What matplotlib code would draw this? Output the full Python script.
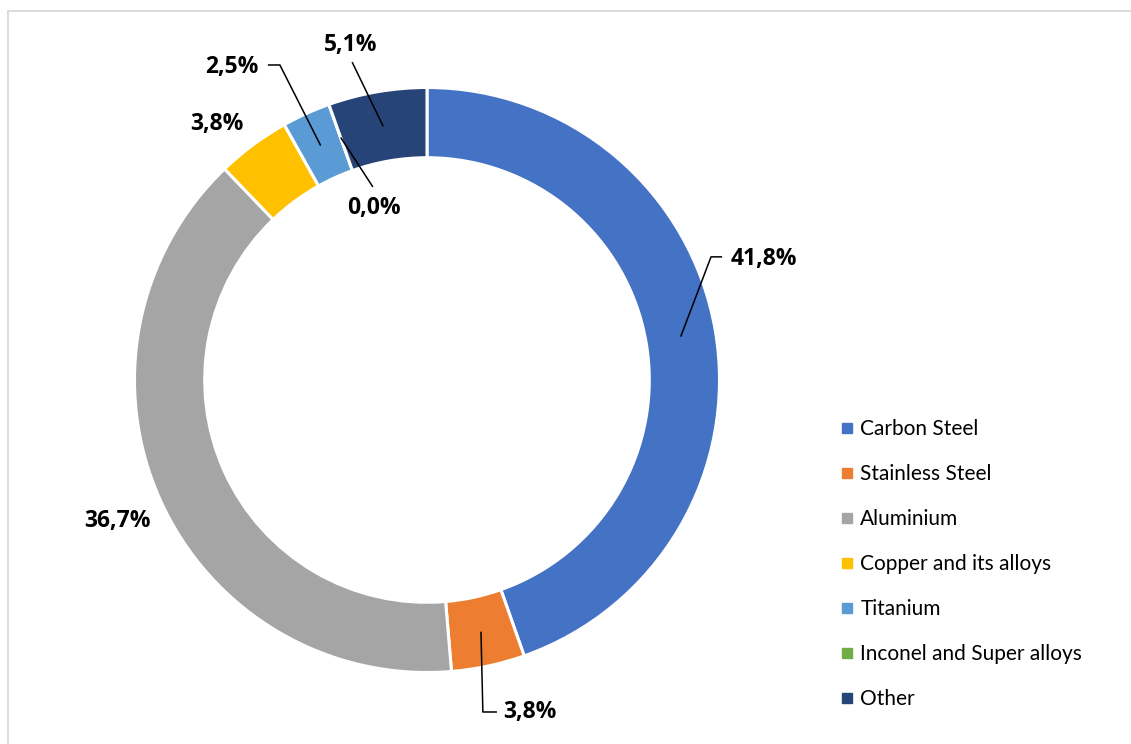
import matplotlib
matplotlib.use("Agg")
import matplotlib.pyplot as plt
import numpy as np
from matplotlib.lines import Line2D

plt.rcParams['font.family'] = ['Lato', 'DejaVu Sans']

# material shares (%)
materials = ["Carbon Steel", "Stainless Steel", "Aluminium", "Copper and its alloys",
             "Titanium", "Inconel and Super alloys", "Other"]
shares = [41.8, 3.8, 36.7, 3.8, 2.5, 0.0, 5.1]
colors = ["#4472C4", "#ED7D31", "#A5A5A5", "#FFC000", "#5B9BD5", "#70AD47", "#264478"]

W, H = 1131, 744
fig = plt.figure(figsize=(W / 100, H / 100), dpi=100)

# donut centred at (427, 380) px with outer radius 292.5 px
cx, cy, R = 427, 380, 292.5
ax = fig.add_axes([(cx - R) / W, (H - cy - R) / H, 2 * R / W, 2 * R / H])
wedges, _ = ax.pie(shares, colors=colors, startangle=90, counterclock=False,
                   radius=1.0,
                   wedgeprops=dict(width=0.24, edgecolor='white', linewidth=2.2))
ax.set_xlim(-1, 1)
ax.set_ylim(-1, 1)
ax.set_aspect('equal')
ax.axis('off')

# label placement: text anchor, alignment, leader points from the text towards the ring
label_pos = [
    ((1.039, 0.414), 'left', [(1.009, 0.421), (0.971, 0.421)]),
    ((0.260, -1.135), 'left', [(0.239, -1.135), (0.191, -1.135)]),
    ((-1.060, -0.482), 'center', None),
    ((-0.718, 0.875), 'center', None),
    ((-0.667, 1.070), 'center', [(-0.544, 1.077), (-0.503, 1.077)]),
    ((-0.180, 0.588), 'center', [(-0.185, 0.660)]),
    ((-0.260, 1.145), 'center', [(-0.256, 1.087)]),
]

label_font = ['Open Sans', 'DejaVu Sans']
r_mid = 0.88
for w, val, (pos, ha, pts) in zip(wedges, shares, label_pos):
    txt = f"{val:.1f}%".replace('.', ',')
    ax.text(pos[0], pos[1], txt, ha=ha, va='center', fontsize=16.5,
            fontweight='bold', family=label_font, color='black', clip_on=False)
    if pts:
        ang = np.deg2rad((w.theta1 + w.theta2) / 2)
        sx, sy = r_mid * np.cos(ang), r_mid * np.sin(ang)
        xs = [p[0] for p in pts] + [sx]
        ys = [p[1] for p in pts] + [sy]
        ax.plot(xs, ys, color='black', lw=1.1, clip_on=False,
                solid_capstyle='butt')

# legend on the right
handles = [Line2D([], [], marker='s', linestyle='none', markersize=6.5,
                  markerfacecolor=c, markeredgecolor=c) for c in colors]
fig.legend(handles, materials, loc='upper left',
           bbox_to_anchor=(840 / W, 1 - 419 / H), frameon=False,
           fontsize=15, handlelength=0.7, handletextpad=0.28,
           labelspacing=1.2, borderpad=0, borderaxespad=0)

# light chart-area border (top and left edges visible)
fig.add_artist(Line2D([7.5 / W, 1], [1 - 10.5 / H, 1 - 10.5 / H],
                      color='#D9D9D9', lw=1.3, transform=fig.transFigure))
fig.add_artist(Line2D([7.5 / W, 7.5 / W], [0, 1 - 10.5 / H],
                      color='#D9D9D9', lw=1.3, transform=fig.transFigure))

fig.savefig("out.png", dpi=100, facecolor='white')
